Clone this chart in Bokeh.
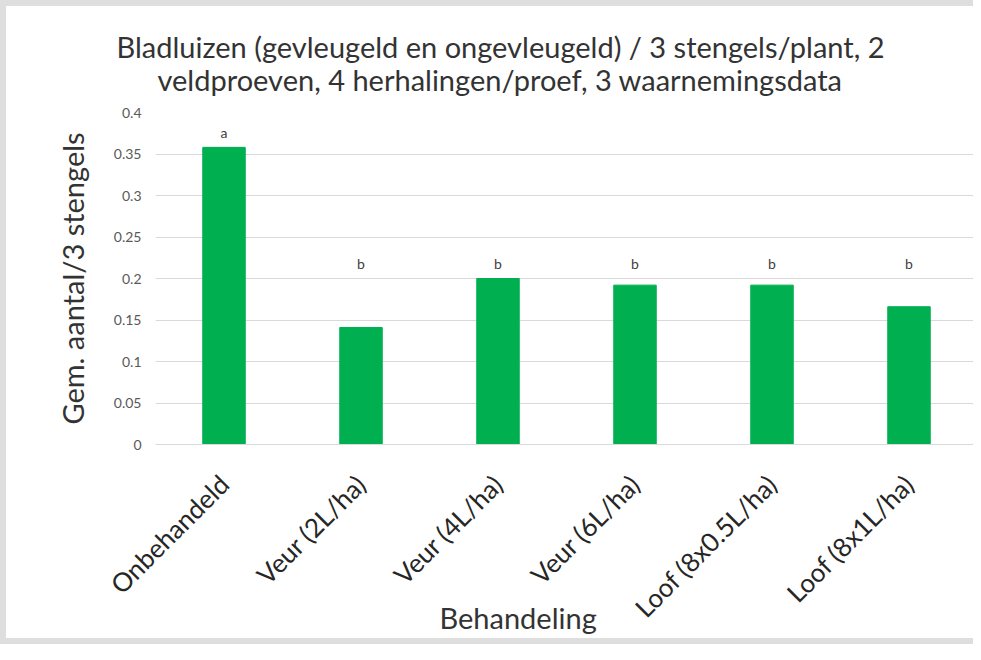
from bokeh.plotting import figure
from bokeh.models import ColumnDataSource, FactorRange, Range1d, FixedTicker, LabelSet, Title
from bokeh.embed import file_html
from bokeh.resources import INLINE
from bokeh.core.properties import value
import math

categories = ["Onbehandeld", "Veur (2L/ha)", "Veur (4L/ha)", "Veur (6L/ha)", "Loof (8x0.5L/ha)", "Loof (8x1L/ha)"]
values = [0.358, 0.141, 0.200, 0.192, 0.192, 0.166]
letters = ["a", "b", "b", "b", "b", "b"]
letter_y = [0.376, 0.2175, 0.2175, 0.2175, 0.2175, 0.2175]
y_ticks = [0, 0.05, 0.1, 0.15, 0.2, 0.25, 0.3, 0.35, 0.4]
y_tick_labels = ["0", "0.05", "0.1", "0.15", "0.2", "0.25", "0.3", "0.35", "0.4"]
title_lines = ["Bladluizen (gevleugeld en ongevleugeld) / 3 stengels/plant, 2",
               "veldproeven, 4 herhalingen/proef, 3 waarnemingsdata"]
y_label = "Gem. aantal/3 stengels"
x_label = "Behandeling"

FONT = "Lato"
TXT = "#333333"

src = ColumnDataSource(dict(cat=categories, val=values, lab=letters, ly=letter_y))

p = figure(x_range=FactorRange(*categories), y_range=Range1d(0, 0.4),
           width=973, height=644, output_backend="svg", toolbar_location=None,
           min_border_left=149, min_border_right=2, min_border_top=106, min_border_bottom=206)
p.outline_line_color = None
p.background_fill_color = "white"
p.border_fill_color = "white"

p.vbar(x="cat", top="val", width=0.31, source=src, color="#00b050")

p.add_layout(LabelSet(x="cat", y="ly", text="lab", source=src, text_align="center",
                      text_baseline="middle", text_font=value(FONT), text_font_size="14px",
                      text_color="#404040"))

p.yaxis.ticker = FixedTicker(ticks=y_ticks)
p.yaxis.major_label_overrides = {t: l for t, l in zip(y_ticks, y_tick_labels)}
p.yaxis.axis_line_color = None
p.yaxis.major_tick_line_color = None
p.yaxis.minor_tick_line_color = None
p.yaxis.major_label_text_font = FONT
p.yaxis.major_label_text_font_size = "14px"
p.yaxis.major_label_text_color = "#595959"
p.yaxis.major_label_standoff = 8
p.yaxis.axis_label = y_label
p.yaxis.axis_label_text_font = FONT
p.yaxis.axis_label_text_font_size = "29px"
p.yaxis.axis_label_text_font_style = "normal"
p.yaxis.axis_label_text_color = TXT
p.yaxis.axis_label_standoff = 21

p.xaxis.axis_line_color = "#d9d9d9"
p.xaxis.major_tick_line_color = None
p.xaxis.minor_tick_line_color = None
p.xaxis.major_label_orientation = math.pi / 4
p.xaxis.major_label_text_font = FONT
p.xaxis.major_label_text_font_size = "26px"
p.xaxis.major_label_text_color = "#262626"
p.xaxis.major_label_standoff = 29

p.xgrid.grid_line_color = None
p.ygrid.grid_line_color = "#d9d9d9"
p.ygrid.grid_line_width = 1

# two-line title: line 2 nearest the plot, line 1 above it
p.title.text = title_lines[0]
p.title.align = "left"
p.title.offset = -39
p.title.text_font = FONT
p.title.text_font_size = "29px"
p.title.text_font_style = "normal"
p.title.text_color = TXT
p.title.standoff = -41
p.add_layout(Title(text=title_lines[1], align="left", offset=2, text_font=FONT,
                   text_font_size="29px", text_font_style="normal", text_color=TXT,
                   standoff=32), "above")

# x-axis label placed under the rotated category labels
p.add_layout(Title(text=x_label, align="left", vertical_align="top", offset=284, text_font=FONT,
                   text_font_size="29px", text_font_style="normal", text_color=TXT,
                   standoff=-76), "below")

p.styles = {"border-left": "6px solid #dedede", "border-top": "6px solid #dedede",
            "border-bottom": "6px solid #dedede", "box-sizing": "border-box"}

open("out.html", "w").write(file_html(p, INLINE))
